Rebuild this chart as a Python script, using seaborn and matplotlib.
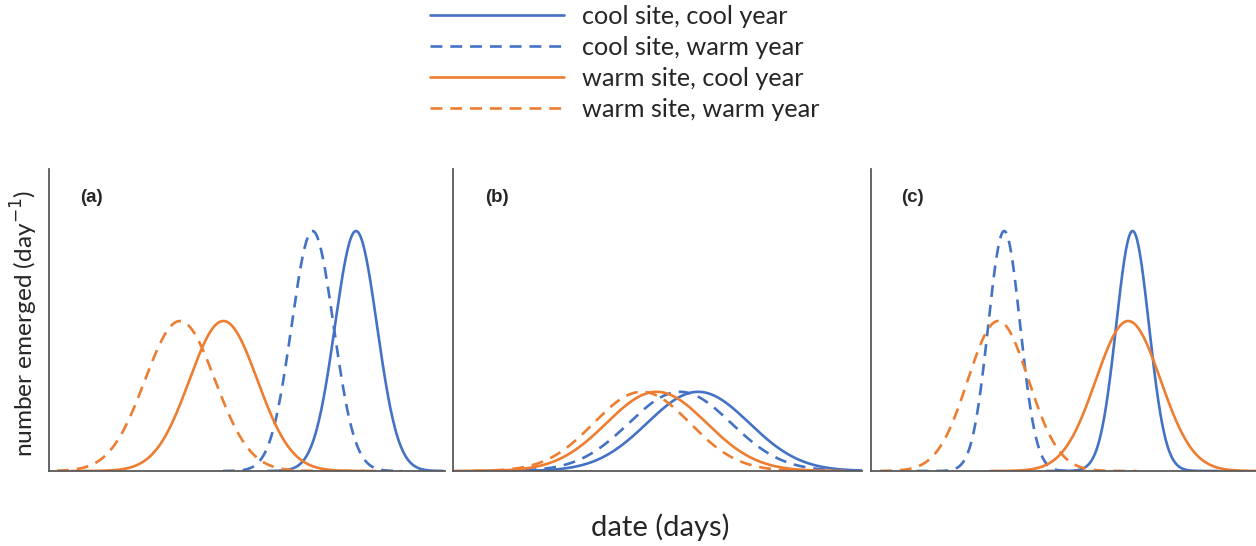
import numpy as np
import pandas as pd
import matplotlib
matplotlib.use("Agg")
import matplotlib.pyplot as plt
from matplotlib.lines import Line2D
import seaborn as sns

sns.set_style("white")
plt.rcParams['font.family'] = ['Lato', 'DejaVu Sans']

# ---- data (x in days from panel's left edge) ----
panels = ["(a)", "(b)", "(c)"]
panel_xmax = [99.0, 102.25, 96.25]
series = ["cool site, cool year", "cool site, warm year",
          "warm site, cool year", "warm site, warm year"]
site = ["cool site", "cool site", "warm site", "warm site"]
year = ["cool year", "warm year", "cool year", "warm year"]

# peak date, spread (sd), peak height, first and last day drawn
peak_a = [76.75, 65.9, 43.6, 32.75]
sd_a = [5.25, 5.25, 8.5, 8.75]
height_a = [1.0, 1.0, 0.625, 0.625]
start_a = [54.75, 43.5, 5.6, 2.0]
end_a = [98.5, 88.25, 81.6, 79.0]

peak_b = [61.3, 56.75, 50.9, 47.2]
sd_b = [12.75, 12.75, 12.5, 12.0]
height_b = [0.33, 0.33, 0.33, 0.33]
start_b = [16.0, 8.0, 3.0, 0.0]
end_b = [102.25, 102.25, 98.0, 96.0]

peak_c = [65.4, 33.3, 64.3, 31.8]
sd_c = [4.1, 4.0, 8.1, 7.6]
height_c = [1.0, 1.0, 0.625, 0.625]
start_c = [43.9, 11.4, 29.75, 2.25]
end_c = [86.75, 51.75, 96.25, 66.4]

params = [
    (peak_a, sd_a, height_a, start_a, end_a),
    (peak_b, sd_b, height_b, start_b, end_b),
    (peak_c, sd_c, height_c, start_c, end_c),
]

BLUE = "#4472C4"
ORANGE = "#ED7D31"
palette = {"cool site": BLUE, "warm site": ORANGE}
dash_map = {"cool year": "", "warm year": (4.5, 3)}

fig = plt.figure(figsize=(12.56, 5.46), dpi=100)
W, H = 1256, 546
ax_px = [(49, 396), (453, 409), (871, 385)]
bottom_px, top_px = 471, 169
ymax = (bottom_px - top_px) / 240.0

for i, (lp, wp) in enumerate(ax_px):
    ax = fig.add_axes([lp / W, (H - bottom_px) / H, wp / W, (bottom_px - top_px) / H])
    pk, sd, hg, st, en = params[i]
    rows = []
    for k in range(4):
        xs = np.linspace(st[k], en[k], 400)
        ys = hg[k] * np.exp(-0.5 * ((xs - pk[k]) / sd[k]) ** 2)
        rows.append(pd.DataFrame({"day": xs, "n": ys, "site": site[k], "year": year[k]}))
    df = pd.concat(rows, ignore_index=True)
    sns.lineplot(data=df, x="day", y="n", hue="site", style="year",
                 palette=palette, dashes=dash_map, linewidth=1.9,
                 sort=False, estimator=None, legend=False, ax=ax)
    ax.set_xlim(0, panel_xmax[i])
    ax.set_ylim(0, ymax)
    ax.set_xticks([])
    ax.set_yticks([])
    ax.set_xlabel("")
    ax.set_ylabel("")
    for s in ["top", "right"]:
        ax.spines[s].set_visible(False)
    for s in ["left", "bottom"]:
        ax.spines[s].set_color("#595959")
        ax.spines[s].set_linewidth(1.3)
    ax.text(0.078, 0.905, panels[i], transform=ax.transAxes, fontsize=13.5,
            fontweight="bold", family=["Liberation Sans", "DejaVu Sans"],
            ha="left", va="center")

handles = []
for k in range(4):
    handles.append(Line2D([0], [0], color=palette[site[k]], linewidth=1.9,
                          linestyle="-" if year[k] == "cool year" else (0, (4.5, 3))))
fig.legend(handles, series, loc="upper left", bbox_to_anchor=(420 / W, 1.0 + 5 / H),
           frameon=False, fontsize=18.2, handlelength=5.3, handletextpad=0.72,
           labelspacing=0.31, borderaxespad=0.0)

fig.text(24 / W, 1 - 323 / H, "number emerged (day$^{-1}$)", rotation=90,
         ha="center", va="center", fontsize=17.6)
fig.text(660 / W, 1 - 527 / H, "date (days)", ha="center", va="center", fontsize=21)

fig.savefig("out.png", dpi=100)
